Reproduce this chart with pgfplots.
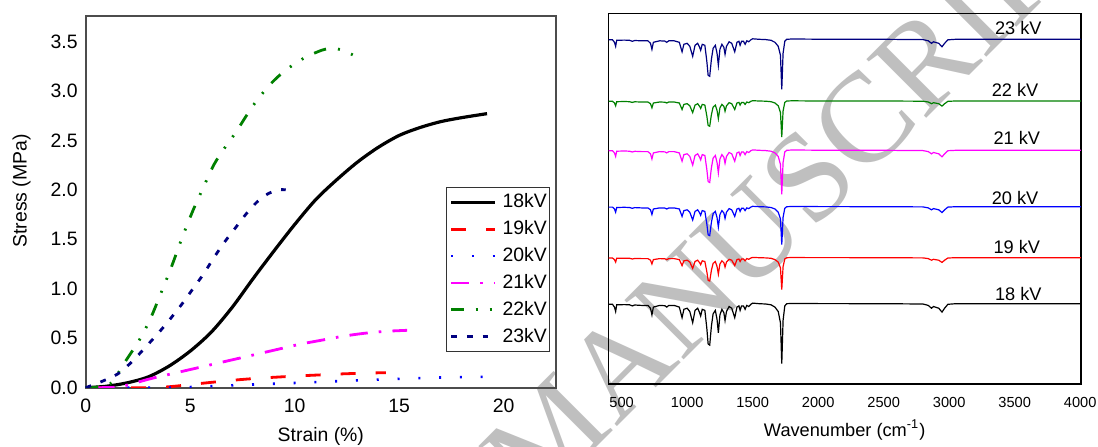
\documentclass[border=0pt]{standalone}
\usepackage{pgfplots}
\pgfplotsset{compat=1.18}
\usepackage{pgfplotstable}
\usepackage{fontspec}
\setmainfont{Liberation Sans}
\newfontfamily\wmfont{Liberation Serif}
\newcommand\fL{\fontsize{9.7pt}{11pt}\selectfont}
\newcommand\fR{\fontsize{9.1pt}{11pt}\selectfont}
\newcommand\fT{\fontsize{7.3pt}{9pt}\selectfont}
\definecolor{navyc}{RGB}{0,0,128}
\definecolor{greenc}{RGB}{0,128,0}
\definecolor{magc}{RGB}{255,0,255}
\definecolor{redc}{RGB}{255,0,0}
\definecolor{bluec}{RGB}{0,0,255}
\definecolor{wm}{RGB}{191,191,191}

\pgfplotstableread{
x y18 y19 y20 y21 y22 y23
400 79.7 126.0 176.9 233.3 282.7 344.2
430 79.7 126.0 176.9 233.3 282.7 344.2
445 76.9 124.4 175.0 231.1 281.0 341.7
454 72.5 121.9 171.8 227.6 278.2 337.7
462 79.2 125.7 176.5 232.8 282.3 343.7
520 79.4 125.8 176.7 233.0 282.5 343.9
560 79.2 125.7 176.5 232.8 282.3 343.7
581 78.1 125.0 175.7 232.0 281.6 342.7
600 79.0 125.5 176.4 232.7 282.2 343.5
650 78.6 125.4 176.1 232.4 282.0 343.2
700 78.6 125.4 176.1 232.4 282.0 343.2
720 75.8 123.8 174.2 230.2 280.3 340.7
731 69.1 120.0 169.5 225.0 276.2 334.7
742 76.9 124.4 175.0 231.1 281.0 341.7
790 78.6 125.4 176.1 232.4 282.0 343.2
830 78.3 125.2 175.9 232.1 281.8 342.9
844 76.9 124.4 175.0 231.1 281.0 341.7
860 78.6 125.4 176.1 232.4 282.0 343.2
900 78.6 125.4 176.1 232.4 282.0 343.2
940 76.9 124.4 175.0 231.1 281.0 341.7
961 66.3 118.4 167.6 222.8 274.5 332.2
975 74.7 123.2 173.4 229.4 279.6 339.7
1000 75.8 123.8 174.2 230.2 280.3 340.7
1020 72.5 121.9 171.8 227.6 278.2 337.7
1042 61.3 115.6 164.0 218.9 271.4 327.7
1060 73.6 122.5 172.6 228.5 278.9 338.7
1080 75.8 123.8 174.2 230.2 280.3 340.7
1095 71.3 121.3 171.1 226.7 277.6 336.7
1103 68.0 119.4 168.7 224.1 275.5 333.7
1115 74.7 123.2 173.4 229.4 279.6 339.7
1135 73.6 122.5 172.6 228.5 278.9 338.7
1150 55.7 112.4 160.1 214.6 268.0 322.7
1160 40.0 103.6 149.2 202.4 258.5 308.7
1172 38.9 103.0 148.4 201.5 257.8 307.7
1185 57.9 113.7 161.7 216.3 269.4 324.7
1198 70.2 120.6 170.3 225.9 276.9 335.7
1215 73.6 122.5 172.6 228.5 278.9 338.7
1228 64.6 117.5 166.4 221.5 273.5 330.7
1238 51.2 109.9 157.0 211.1 265.3 318.7
1250 69.1 120.0 169.5 225.0 276.2 334.7
1265 74.7 123.2 173.4 229.4 279.6 339.7
1280 71.3 121.3 171.1 226.7 277.6 336.7
1289 63.5 116.9 165.6 220.7 272.8 329.7
1300 72.5 121.9 171.8 227.6 278.2 337.7
1320 77.5 124.7 175.4 231.5 281.3 342.2
1340 75.8 123.8 174.2 230.2 280.3 340.7
1363 66.3 118.4 167.6 222.8 274.5 332.2
1380 76.9 124.4 175.0 231.1 281.0 341.7
1395 78.1 125.0 175.7 232.0 281.6 342.7
1404 73.6 122.5 172.6 228.5 278.9 338.7
1415 78.1 125.0 175.7 232.0 281.6 342.7
1430 78.1 125.0 175.7 232.0 281.6 342.7
1442 74.7 123.2 173.4 229.4 279.6 339.7
1455 78.6 125.4 176.1 232.4 282.0 343.2
1470 77.5 124.7 175.4 231.5 281.3 342.2
1486 79.7 126.0 176.9 233.3 282.7 344.2
1500 80.9 126.6 177.7 234.1 283.3 345.2
1550 80.3 126.3 177.3 233.7 283.0 344.7
1600 80.0 126.1 177.1 233.4 282.8 344.4
1640 79.2 125.7 176.5 232.8 282.3 343.7
1670 76.9 124.4 175.0 231.1 281.0 341.7
1695 72.5 121.9 171.8 227.6 278.2 337.7
1712 61.1 116.1 165.1 219.6 271.5 328.7
1722 20.3 94.3 139.3 189.7 247.0 294.7
1732 63.5 117.3 166.7 221.4 272.9 330.7
1745 78.1 125.0 175.7 232.0 281.6 342.7
1760 80.3 126.3 177.3 233.7 283.0 344.7
1800 80.6 126.5 177.5 234.0 283.2 345.0
1900 80.5 126.4 177.5 233.9 283.1 344.9
2000 80.4 126.4 177.4 233.8 283.1 344.8
2500 80.3 126.3 177.3 233.7 283.0 344.7
2800 80.0 126.1 177.1 233.4 282.8 344.4
2840 78.6 125.4 176.1 232.4 282.0 343.2
2865 75.8 123.8 174.2 230.2 280.3 340.7
2880 77.5 124.7 175.4 231.5 281.3 342.2
2920 75.8 123.8 174.2 230.2 280.3 340.7
2945 71.9 121.6 171.5 227.2 277.9 337.2
2965 75.8 123.8 174.2 230.2 280.3 340.7
2990 79.7 126.0 176.9 233.3 282.7 344.2
3050 80.3 126.3 177.3 233.7 283.0 344.7
4005 80.3 126.3 177.3 233.7 283.0 344.7
}\spectra

\begin{document}
\begin{tikzpicture}
\useasboundingbox (0,0) rectangle (549pt,223pt);
\clip (0,0) rectangle (549pt,223pt);
\node[rotate=45, text=wm, font=\wmfont\fontsize{64pt}{70pt}\selectfont, inner sep=0pt] at (399pt,129.5pt) {MANUSCRIPT};

\begin{axis}[
  at={(42.85pt,29.15pt)}, anchor=south west,
  scale only axis, width=235.15pt, height=186pt,
  xmin=0, xmax=22.5, ymin=0, ymax=3.76,
  xtick={0,5,10,15,20},
  ytick={0,0.5,1,1.5,2,2.5,3,3.5},
  yticklabels={0.0,0.5,1.0,1.5,2.0,2.5,3.0,3.5},
  major tick length=0pt,
  axis line style={draw=black!70, line width=1pt},
  tick label style={font=\fL},
  xticklabel style={yshift=-1.95pt},
  yticklabel style={xshift=-0.5pt},
  /pgf/number format/assume math mode=true,
  xlabel={Strain (\%)}, ylabel={Stress (MPa)},
  every axis x label/.style={at={(axis description cs:0.5,-0.1317)}, anchor=center, font=\fL},
  every axis y label/.style={at={(axis description cs:-0.1361,0.529)}, rotate=90, anchor=center, font=\fL},
  legend style={at={(0.9872,0.5387)}, anchor=north east, draw=black!80, line width=0.5pt, fill=white, font=\fL, inner xsep=1.3pt, inner ysep=3pt, row sep=4.9pt, column sep=3pt, nodes={inner sep=0pt}},
  legend cell align=left,
  legend image code/.code={\draw[#1] (0pt,0pt) -- (22pt,0pt);},
]
\addplot[black, line width=1.6pt, smooth] coordinates {
(0,0) (1,0.015) (2,0.05) (3,0.11) (4,0.22) (5,0.37) (6,0.56) (7,0.81) (8,1.1) (9,1.38) (10,1.65) (11,1.9) (12,2.1) (13,2.28) (14,2.43) (15,2.55) (16,2.63) (17,2.69) (18,2.73) (19.2,2.77)};
\addlegendentry{18kV}
\addplot[redc, line width=1.4pt, dash pattern=on 7.5pt off 10pt, smooth] coordinates {
(0.5,0) (3.08,0.0) (4.1,0.012) (5.13,0.035) (6.15,0.057) (7.18,0.078) (8.21,0.095) (9.23,0.108) (10.26,0.12) (11.28,0.13) (12.31,0.14) (13.33,0.147) (14.36,0.152)};
\addlegendentry{19kV}
\addplot[bluec, line width=1.3pt, dash pattern=on 1pt off 9.4pt, smooth] coordinates {
(0,0) (2,0.0) (4.1,0.0) (6.15,0.017) (8.21,0.034) (10.26,0.05) (12.31,0.068) (14.36,0.085) (16.41,0.1) (18.12,0.108) (19.0,0.11)};
\addlegendentry{20kV}
\addplot[magc, line width=1.4pt, dash pattern=on 9.2pt off 5.5pt on 1.3pt off 5.6pt, smooth] coordinates {
(0.5,0.0) (1.5,0.005) (2.05,0.03) (3.08,0.09) (4.1,0.14) (5.13,0.19) (6.15,0.24) (7.18,0.29) (8.21,0.34) (9.23,0.39) (10.26,0.44) (11.28,0.48) (12.31,0.52) (13.33,0.55) (14.36,0.57) (15.38,0.58)};
\addlegendentry{21kV}
\addplot[greenc, line width=1.4pt, dash pattern=on 6.3pt off 6pt on 1pt off 6pt on 1pt off 6pt, smooth] coordinates {
(0,0) (0.5,0.005) (1.17,0.04) (1.5,0.13) (1.88,0.26) (2.56,0.48) (3.08,0.69) (3.59,0.95) (4.1,1.22) (4.62,1.52) (5.13,1.79) (5.64,2.03) (6.15,2.26) (6.67,2.43) (7.18,2.58) (7.69,2.75) (8.21,2.91) (8.89,3.08) (9.57,3.21) (10.43,3.33) (11.28,3.41) (11.8,3.43) (12.3,3.41) (12.82,3.36)};
\addlegendentry{22kV}
\addplot[navyc, line width=1.4pt, dash pattern=on 2.9pt off 5pt, smooth] coordinates {
(0,0) (0.85,0.07) (1.54,0.14) (2.05,0.23) (2.56,0.34) (3.08,0.46) (3.59,0.58) (4.1,0.71) (4.62,0.85) (5.13,1.0) (5.64,1.15) (6.15,1.32) (6.67,1.48) (7.18,1.62) (7.69,1.76) (8.21,1.88) (8.72,1.96) (9.23,2.0) (9.57,2.0)};
\addlegendentry{23kV}
\end{axis}

\begin{axis}[
  at={(304.15pt,31pt)}, anchor=south west,
  scale only axis, width=236.35pt, height=185.35pt,
  xmin=398, xmax=4006, ymin=0, ymax=370.7,
  xtick={500,1000,1500,2000,2500,3000,3500,4000}, ytick=\empty,
  major tick length=0pt,
  axis line style={draw=black, line width=0.65pt},
  tick label style={font=\fT},
  xticklabel style={yshift=-3pt},
  /pgf/number format/assume math mode=true,
  /pgf/number format/set thousands separator={},
  xlabel={Wavenumber (cm\textsuperscript{-1})},
  every axis x label/.style={at={(axis description cs:0.5,-0.1241)}, anchor=center, font=\fR},
]
\addplot[black, line width=0.6pt] table[x=x, y=y18] {\spectra};
\addplot[redc, line width=0.6pt] table[x=x, y=y19] {\spectra};
\addplot[bluec, line width=0.6pt] table[x=x, y=y20] {\spectra};
\addplot[magc, line width=0.6pt] table[x=x, y=y21] {\spectra};
\addplot[greenc, line width=0.6pt] table[x=x, y=y22] {\spectra};
\addplot[navyc, line width=0.6pt] table[x=x, y=y23] {\spectra};
\node[font=\fR] at (axis cs:3528,355.7) {23 kV};
\node[font=\fR] at (axis cs:3503,294) {22 kV};
\node[font=\fR] at (axis cs:3516,245.7) {21 kV};
\node[font=\fR] at (axis cs:3503,186.3) {20 kV};
\node[font=\fR] at (axis cs:3516,137.3) {19 kV};
\node[font=\fR] at (axis cs:3528,89.7) {18 kV};
\end{axis}
\end{tikzpicture}
\end{document}
